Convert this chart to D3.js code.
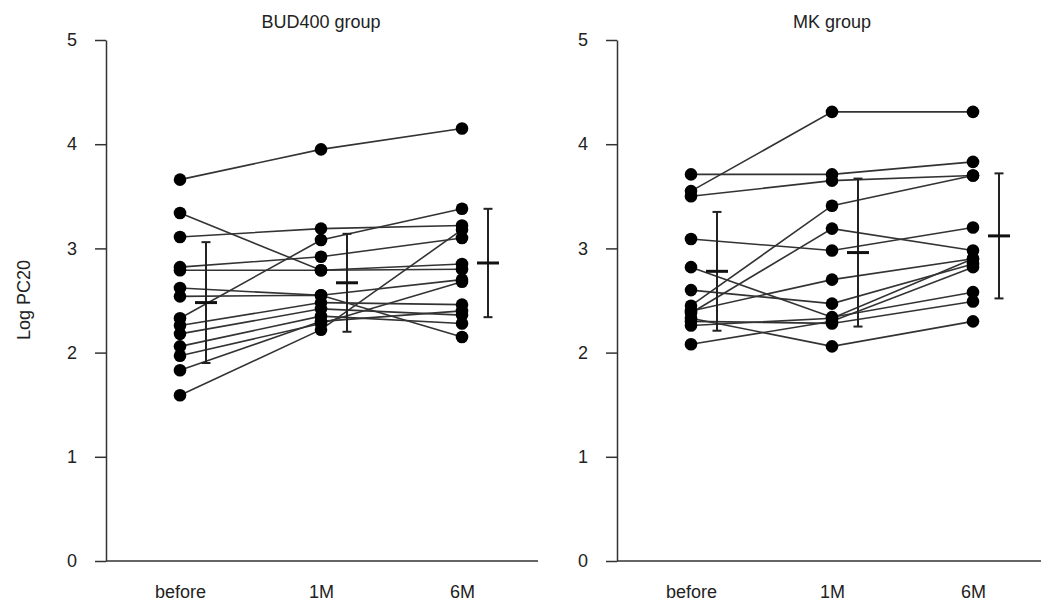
<!DOCTYPE html>
<html>
<head>
<meta charset="utf-8">
<script src="https://cdn.jsdelivr.net/npm/d3@7"></script>
<style>
  body { margin: 0; background: #fff; }
  svg text { font-family: "Liberation Sans", Arial, sans-serif; fill: #222; }
</style>
</head>
<body>
<svg id="chart" width="1041" height="606"></svg>
<script>
const timepoints = ["before", "1M", "6M"];
const yTicks = [0, 1, 2, 3, 4, 5];

// BUD400 group, one entry per subject
const budBefore = [3.66, 3.34, 3.11, 2.33, 2.82, 2.79, 2.62, 2.54, 1.59, 2.26, 2.18, 2.06, 1.97, 1.83];
const bud1M     = [3.95, 2.79, 3.19, 3.08, 2.92, 2.79, 2.55, 2.55, 2.22, 2.48, 2.42, 2.35, 2.28, 2.30];
const bud6M     = [4.15, 2.85, 3.22, 3.38, 3.10, 2.80, 2.70, 2.15, 3.18, 2.46, 2.36, 2.28, 2.68, 2.40];
const budMean = [2.48, 2.67, 2.86];
const budSD   = [0.58, 0.47, 0.52];

// MK group
const mkBefore = [3.71, 3.55, 3.50, 2.45, 2.38, 3.09, 2.82, 2.40, 2.60, 2.33, 2.30, 2.08, 2.26];
const mk1M     = [3.71, 4.31, 3.65, 3.41, 3.19, 2.98, 2.34, 2.70, 2.47, 2.06, 2.28, 2.30, 2.33];
const mk6M     = [3.83, 4.31, 3.70, 3.70, 2.98, 3.20, 2.58, 2.90, 2.85, 2.30, 2.49, 2.82, 2.90];
const mkMean = [2.78, 2.96, 3.12];
const mkSD   = [0.57, 0.71, 0.60];

const svg = d3.select("#chart");
const plotTop = 40, plotBottom = 561, panelW = 432;
const fontSize = "18px";

const y = d3.scaleLinear().domain([0, 5]).range([plotBottom, plotTop]);
const x = d3.scalePoint().domain(timepoints).range([74, 356]);

function drawPanel(left, title, before, m1, m6, mean, sd) {
    const g = svg.append("g").attr("transform", `translate(${left},0)`);

    // y axis
    const yAxis = g.append("g")
        .call(d3.axisLeft(y).tickValues(yTicks).tickFormat(d3.format("d"))
            .tickSize(11).tickSizeOuter(0).tickPadding(18));
    yAxis.selectAll("path, line").attr("stroke", "#333").attr("stroke-width", 1.5);
    yAxis.selectAll("text").style("font-size", fontSize);

    // x axis (labels only, baseline drawn by hand)
    const xAxis = g.append("g")
        .attr("transform", `translate(0,${plotBottom})`)
        .call(d3.axisBottom(x).tickSize(0).tickPadding(24));
    xAxis.select(".domain").remove();
    xAxis.selectAll("text").style("font-size", fontSize);
    g.append("line")
        .attr("x1", 0).attr("x2", panelW)
        .attr("y1", plotBottom).attr("y2", plotBottom)
        .attr("stroke", "#333").attr("stroke-width", 1.5);

    g.append("text")
        .attr("x", x("1M")).attr("y", 28)
        .attr("text-anchor", "middle")
        .style("font-size", fontSize)
        .text(title);

    const subjects = before.map((v, i) => [v, m1[i], m6[i]]);

    const line = d3.line()
        .x((d, i) => x(timepoints[i]))
        .y(d => y(d));

    g.selectAll(".subj")
        .data(subjects)
        .enter().append("path")
        .attr("class", "subj")
        .attr("d", line)
        .attr("fill", "none")
        .attr("stroke", "#333")
        .attr("stroke-width", 1.6);

    subjects.forEach(s => {
        g.selectAll(null)
            .data(s)
            .enter().append("circle")
            .attr("cx", (d, i) => x(timepoints[i]))
            .attr("cy", d => y(d))
            .attr("r", 6.3)
            .attr("fill", "#000");
    });

    // mean +/- SD bars, drawn just right of each column
    const off = 26;
    timepoints.forEach((t, i) => {
        const cx = x(t) + off;
        const hi = y(mean[i] + sd[i]), lo = y(mean[i] - sd[i]);
        g.append("line").attr("x1", cx).attr("x2", cx).attr("y1", hi).attr("y2", lo)
            .attr("stroke", "#222").attr("stroke-width", 2);
        [hi, lo].forEach(yy => {
            g.append("line").attr("x1", cx - 4.5).attr("x2", cx + 4.5).attr("y1", yy).attr("y2", yy)
                .attr("stroke", "#222").attr("stroke-width", 2);
        });
        g.append("line").attr("x1", cx - 11).attr("x2", cx + 11)
            .attr("y1", y(mean[i])).attr("y2", y(mean[i]))
            .attr("stroke", "#111").attr("stroke-width", 3);
    });
}

drawPanel(106, "BUD400 group", budBefore, bud1M, bud6M, budMean, budSD);
drawPanel(617, "MK group", mkBefore, mk1M, mk6M, mkMean, mkSD);

svg.append("text")
    .attr("transform", "translate(30,300) rotate(-90)")
    .attr("text-anchor", "middle")
    .style("font-size", fontSize)
    .text("Log PC20");
</script>
</body>
</html>
